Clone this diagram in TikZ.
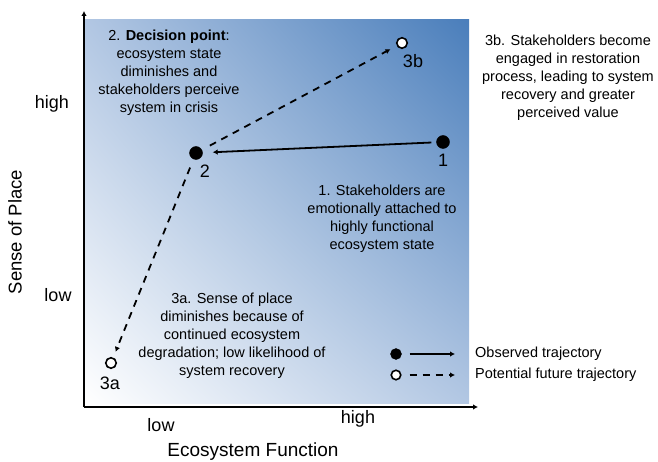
\documentclass[tikz,border=0pt]{standalone}
\usepackage{fontspec}
\setmainfont{Liberation Sans}
\usetikzlibrary{arrows.meta,shadings}
\definecolor{ofblue}{RGB}{74,126,187}
\definecolor{ofmid}{RGB}{178,199,227}
\begin{document}
\begin{tikzpicture}[x=1pt,y=-1pt,
  txt/.style={font=\fontsize{14.5}{18}\selectfont, align=center, inner sep=0pt},
  lbl/.style={font=\fontsize{18}{20}\selectfont, inner sep=0pt},
  fpt/.style={circle, fill=black, draw=black, minimum size=13pt, inner sep=0pt},
  opt/.style={circle, fill=white, draw=black, line width=1.6pt, minimum size=10.5pt, inner sep=0pt},
  lfpt/.style={circle, fill=black, draw=black, minimum size=11pt, inner sep=0pt},
  lopt/.style={circle, fill=white, draw=black, line width=1.6pt, minimum size=9.5pt, inner sep=0pt},
  conn/.style={line width=1.8pt, -{Latex[length=5pt,width=5.5pt]}},
  dconn/.style={conn, dash pattern=on 7pt off 6pt},
  axisline/.style={line width=1.8pt, -{Latex[length=5pt,width=5.5pt]}},
]
\useasboundingbox (0,0) rectangle (658,462);
\shade[lower left=white, upper right=ofblue, upper left=ofmid, lower right=ofmid] (85,403) rectangle (469,20);

% axes
\coordinate (O) at (84,407);
\coordinate (ytop) at (84,11);
\coordinate (xend) at (478,407);
\draw[axisline] (O) -- (ytop);
\draw[axisline] (O) -- (xend);

\node[lbl] (yhigh) at (52,104) {high};
\node[lbl] (ylow) at (58,295) {low};
\node[lbl, rotate=90, font=\fontsize{18.5}{20}\selectfont] (ytitle) at (15,232) {Sense of Place};
\node[lbl] (xlow) at (161,425) {low};
\node[lbl] (xhigh) at (358,419) {high};
\node[lbl, font=\fontsize{19}{20}\selectfont] (xtitle) at (253,452) {Ecosystem Function};

% points
\node[fpt] (p1) at (443,142) {};
\node[fpt] (p2) at (196,153) {};
\node[opt] (p3b) at (402,43) {};
\node[opt] (p3a) at (111,363) {};

\node[lbl] (l1) at (443,160) {1};
\node[lbl] (l2) at (205,171) {2};
\node[lbl] (l3b) at (413,61) {3b};
\node[lbl] (l3a) at (110,383) {3a};

% connectors
\draw[conn, shorten <=5pt, shorten >=10pt] (p1) -- (p2);
\draw[dconn, shorten <=9pt, shorten >=7pt] (p2) -- (p3b);
\draw[dconn, shorten <=9pt, shorten >=6pt] (p2) -- (p3a);

% texts
\node[txt] (t2) at (169,73) {2. \textbf{Decision point}:\\ecosystem state\\diminishes and\\stakeholders perceive\\system in crisis};
\node[txt] (t3b) at (568,78) {3b. Stakeholders become\\engaged in restoration\\process, leading to system\\recovery and greater\\perceived value};
\node[txt] (t1) at (382,219) {1. Stakeholders are\\emotionally attached to\\highly functional\\ecosystem state};
\node[txt] (t3a) at (232,336) {3a. Sense of place\\diminishes because of\\continued ecosystem\\degradation; low likelihood of\\system recovery};

% legend
\node[lfpt] (lg1) at (396,354) {};
\node[lopt] (lg2) at (396,375) {};
\coordinate (lg1e) at (455,354);
\coordinate (lg2e) at (455,375);
\draw[conn, shorten <=8pt] (lg1) -- (lg1e);
\draw[dconn, shorten <=8pt] (lg2) -- (lg2e);
\node[txt, anchor=west] (lgt1) at (475,354) {Observed trajectory};
\node[txt, anchor=west] (lgt2) at (475,375) {Potential future trajectory};
\end{tikzpicture}
\end{document}
